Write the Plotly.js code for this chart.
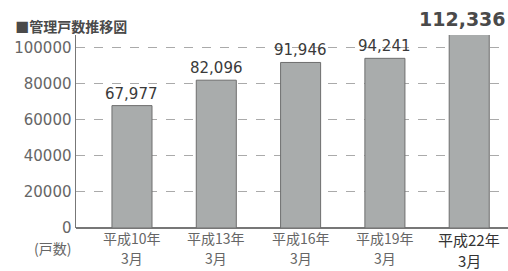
<!DOCTYPE html>
<html><head><meta charset="utf-8">
<script src="https://cdn.plot.ly/plotly-3.0.1.min.js"></script>
<style>body{margin:0;background:#fff}#c{width:508px;height:271px}</style>
</head><body><div id="c"></div>
<script>
const categories = ["平成10年","平成13年","平成16年","平成19年","平成22年"];
const months = ["3月","3月","3月","3月","3月"];
const values = [67977, 82096, 91946, 94241, 112336];
const yTicks = [0, 20000, 40000, 60000, 80000, 100000];
const title = "■管理戸数推移図";
const unitLabel = "(戸数)";

const yMax = 107200;
const xIdx = categories.map((_, i) => i);
const last = categories.length - 1;

const fmt = v => v.toLocaleString('en-US');
const annotations = [];
values.forEach((v, i) => annotations.push({
  x: i, y: Math.min(v, yMax), xref: 'x', yref: 'y',
  text: i === last ? '<b>' + fmt(v) + '</b>' : fmt(v),
  showarrow: false, yanchor: 'bottom', yshift: i === last ? 3 : 1, xshift: i === last ? -7 : 0,
  font: {family: 'DejaVu Sans', size: i === last ? 19 : 15, color: i === last ? '#4a4a4a' : '#3a3a3a'}
}));
categories.forEach((c, i) => {
  const big = i === last;
  const f = {family: 'Noto Sans CJK JP', size: big ? 15 : 14, color: big ? '#333' : '#666'};
  annotations.push({x: i, y: 0, xref: 'x', yref: 'paper', yanchor: 'middle', showarrow: false,
    borderpad: 0, yshift: big ? -11 : -10, text: c, font: f});
  annotations.push({x: i, y: 0, xref: 'x', yref: 'paper', yanchor: 'middle', showarrow: false,
    borderpad: 0, yshift: big ? -32 : -30, text: months[i], font: f});
});
annotations.push({
  xref: 'paper', yref: 'paper', x: -4 / 432, y: 0, xanchor: 'right', yanchor: 'middle', yshift: -20,
  text: unitLabel, showarrow: false, borderpad: 0,
  font: {family: 'Noto Sans CJK JP', size: 14, color: '#666'}
});

Plotly.newPlot('c', [{
  type: 'bar', x: xIdx, y: values, width: 0.475,
  marker: {color: '#a9acac', line: {color: '#6e6e6e', width: 1}},
  hoverinfo: 'none'
}], {
  width: 508, height: 271,
  margin: {l: 76, r: 0, t: 35, b: 43},
  paper_bgcolor: '#fff', plot_bgcolor: '#fff',
  title: {text: '<b>' + title + '</b>', x: 0.03, xanchor: 'left', y: 0.9, yanchor: 'middle',
    font: {family: 'Noto Sans CJK JP', size: 14, color: '#4a4a4a'}},
  xaxis: {range: [-0.664, 4.46], tickvals: xIdx, showticklabels: false, showgrid: false,
    zeroline: false, showline: false, ticks: ''},
  yaxis: {range: [0, yMax], tickvals: yTicks, ticktext: yTicks.map(String),
    showgrid: true, gridcolor: '#aaa', griddash: 'dash', gridwidth: 1,
    zeroline: true, zerolinecolor: '#777', zerolinewidth: 1.5,
    showline: true, linecolor: '#777', linewidth: 1.5, ticks: '',
    tickfont: {family: 'DejaVu Sans', size: 15, color: '#666'}},
  annotations: annotations,
  showlegend: false
}, {staticPlot: true});
</script></body></html>
